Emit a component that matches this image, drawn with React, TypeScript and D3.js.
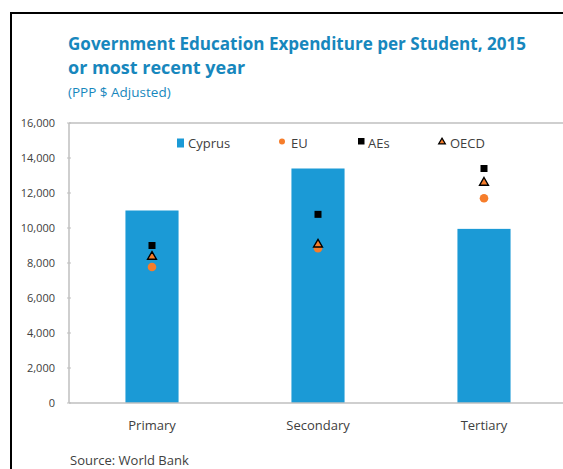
import React from "react";
import * as d3 from "d3";

const categories = ["Primary", "Secondary", "Tertiary"];
const cyprus = [11000, 13400, 9950];
const eu = [7770, 8840, 11700];
const aes = [9000, 10780, 13400];
const oecd = [8420, 9120, 12650];
const yTicks = [0, 2000, 4000, 6000, 8000, 10000, 12000, 14000, 16000];
const legendItems = ["Cyprus", "EU", "AEs", "OECD"];

const W = 563;
const H = 469;
const M = { left: 69, right: 567, top: 123, bottom: 403 };
const BLUE = "#1b9ad6";
const ORANGE = "#f67d2b";
const TEAL = "#1787bd";
const TXT = "#404040";
const FONT = "'Open Sans', 'Noto Sans', sans-serif";

export default function App() {
  const x = d3.scaleBand<string>().domain(categories).range([M.left, M.right]).paddingInner(0.68).paddingOuter(0.34);
  const y = d3.scaleLinear().domain([0, 16000]).range([M.bottom, M.top]);
  const fmt = d3.format(",");
  const cx = (c: string) => (x(c) as number) + x.bandwidth() / 2;
  const tri = d3.symbol().type(d3.symbolTriangle).size(34);
  const triLeg = d3.symbol().type(d3.symbolTriangle).size(20);

  const legendX = [177, 281, 358, 442];
  const legendTextX = [188, 291, 368, 450];
  const ly = 143;

  return (
    <svg width={W} height={H} style={{ position: "absolute", left: 0, top: 0, background: "#fff" }} fontFamily={FONT}>
      <rect x={0} y={0} width={W} height={H} fill="#fff" />
      <rect x={11} y={13} width={W + 20} height={H + 20} fill="none" stroke="#000" strokeWidth={2} />
      <text x={68} y={50} fill={TEAL} fontWeight={700} fontSize={18} textLength={458} lengthAdjust="spacingAndGlyphs">
        Government Education Expenditure per Student, 2015
      </text>
      <text x={68} y={74} fill={TEAL} fontWeight={700} fontSize={18}>
        or most recent year
      </text>
      <text x={68} y={97} fill={TEAL} fontSize={13.5}>
        (PPP $ Adjusted)
      </text>

      {/* plot frame */}
      <line x1={M.left} x2={M.right} y1={M.top} y2={M.top} stroke="#bfbfbf" strokeWidth={1.5} />
      <line x1={M.left} x2={M.left} y1={M.top} y2={M.bottom} stroke="#bfbfbf" strokeWidth={1.5} />

      {yTicks.map((t) => (
        <g key={t}>
          <line x1={M.left - 2} x2={M.left + 2} y1={y(t)} y2={y(t)} stroke="#bfbfbf" strokeWidth={1} />
          <text x={55} y={y(t) + 4} textAnchor="end" fontSize={11} fill={TXT}>
            {fmt(t)}
          </text>
        </g>
      ))}

      {categories.map((c, i) => (
        <rect key={c} x={x(c)} y={y(cyprus[i])} width={x.bandwidth()} height={M.bottom - y(cyprus[i])} fill={BLUE} />
      ))}
      <line x1={M.left} x2={M.right} y1={M.bottom} y2={M.bottom} stroke="#bfbfbf" strokeWidth={1.5} />

      {categories.map((c, i) => (
        <g key={"m" + c}>
          <circle cx={cx(c)} cy={y(eu[i])} r={4.3} fill={ORANGE} />
          <path d={tri() as string} transform={`translate(${cx(c)},${y(oecd[i]) + 1})`} fill={ORANGE} stroke="#000" strokeWidth={1.4} />
          <rect x={cx(c) - 3.5} y={y(aes[i]) - 3.5} width={7} height={7} fill="#000" />
        </g>
      ))}

      {categories.map((c) => (
        <text key={"l" + c} x={cx(c)} y={430} textAnchor="middle" fontSize={13} fill={TXT}>
          {c}
        </text>
      ))}

      {/* legend */}
      <rect x={legendX[0]} y={ly - 4.5} width={7} height={9} fill={BLUE} />
      <circle cx={legendX[1] + 1} cy={ly - 1.5} r={3} fill={ORANGE} />
      <rect x={legendX[2]} y={ly - 5} width={6.5} height={6.5} fill="#000" />
      <path d={triLeg() as string} transform={`translate(${legendX[3]},${ly - 1})`} fill={ORANGE} stroke="#000" strokeWidth={1.2} />
      {legendItems.map((t, i) => (
        <text key={t} x={legendTextX[i]} y={ly + 4.5} fontSize={13} fill={TXT}>
          {t}
        </text>
      ))}

      <text x={70} y={465} fontSize={13} fill={TXT}>
        Source: World Bank
      </text>
    </svg>
  );
}
